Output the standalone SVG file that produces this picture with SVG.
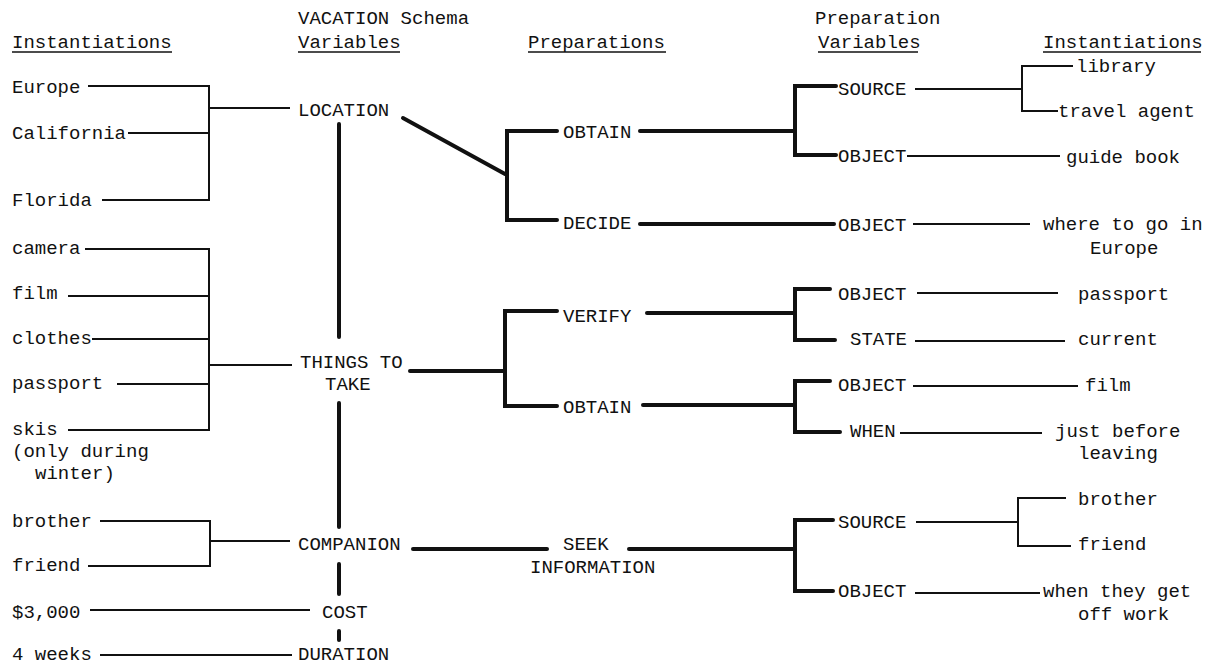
<svg xmlns="http://www.w3.org/2000/svg" width="1207" height="666" viewBox="0 0 1207 666">
<style>
text{font-family:"Liberation Mono","Courier New",monospace;font-size:19px;fill:#111}
.thin{stroke:#111;stroke-width:2;fill:none}
.thick{stroke:#111;stroke-width:4;fill:none;stroke-linecap:round;stroke-linejoin:miter}
.ul{stroke:#111;stroke-width:1.5}
</style>
<rect width="1207" height="666" fill="#fff"/>
<g id="headers">
<text x="12" y="48">Instantiations</text><line class="ul" x1="12" y1="52" x2="172" y2="52"/>
<text x="298" y="24">VACATION Schema</text>
<text x="298" y="48">Variables</text><line class="ul" x1="298" y1="52" x2="400" y2="52"/>
<text x="528" y="48">Preparations</text><line class="ul" x1="528" y1="52" x2="666" y2="52"/>
<text x="815" y="24">Preparation</text>
<text x="818" y="48">Variables</text><line class="ul" x1="818" y1="52" x2="918" y2="52"/>
<text x="1043" y="48">Instantiations</text><line class="ul" x1="1043" y1="52" x2="1201" y2="52"/>
</g>
<g id="connectors">
<polyline class="thin" points="88,86 209,86 209,200 102,200"/>
<line class="thin" x1="128" y1="133" x2="209" y2="133"/>
<line class="thin" x1="209" y1="108" x2="290" y2="108"/>
<polyline class="thin" points="85,249 209,249 209,430 68,430"/>
<line class="thin" x1="68" y1="296" x2="209" y2="296"/>
<line class="thin" x1="92" y1="339" x2="209" y2="339"/>
<line class="thin" x1="117" y1="384" x2="209" y2="384"/>
<line class="thin" x1="209" y1="365" x2="292" y2="365"/>
<polyline class="thin" points="100,521 210,521 210,566 88,566"/>
<line class="thin" x1="210" y1="541" x2="290" y2="541"/>
<line class="thin" x1="90" y1="610" x2="310" y2="610"/>
<line class="thin" x1="100" y1="655" x2="292" y2="655"/>
<line class="thick" x1="339" y1="124" x2="339" y2="337"/>
<line class="thick" x1="339" y1="403" x2="339" y2="527"/>
<line class="thick" x1="339" y1="564" x2="339" y2="594"/>
<line class="thick" x1="339" y1="631" x2="339" y2="640"/>
<line class="thick" x1="403" y1="118" x2="505" y2="174"/>
<polyline class="thick" points="557,131 507,131 507,220 557,220"/>
<line class="thick" x1="640" y1="131" x2="795" y2="131"/>
<polyline class="thick" points="836,86 795,86 795,155 836,155"/>
<line class="thin" x1="915" y1="89" x2="1022" y2="89"/>
<polyline class="thin" points="1073,66 1022,66 1022,111 1058,111"/>
<line class="thin" x1="907" y1="156" x2="1060" y2="156"/>
<line class="thick" x1="640" y1="224" x2="834" y2="224"/>
<line class="thin" x1="913" y1="224" x2="1030" y2="224"/>
<line class="thick" x1="410" y1="371" x2="505" y2="371"/>
<polyline class="thick" points="557,311 505,311 505,406 557,406"/>
<line class="thick" x1="647" y1="313" x2="795" y2="313"/>
<polyline class="thick" points="830,289 795,289 795,340 835,340"/>
<line class="thin" x1="917" y1="293" x2="1058" y2="293"/>
<line class="thin" x1="915" y1="341" x2="1065" y2="341"/>
<line class="thick" x1="643" y1="405" x2="795" y2="405"/>
<polyline class="thick" points="830,381 795,381 795,432 840,432"/>
<line class="thin" x1="913" y1="386" x2="1078" y2="386"/>
<line class="thin" x1="900" y1="433" x2="1042" y2="433"/>
<line class="thick" x1="413" y1="549" x2="547" y2="549"/>
<line class="thick" x1="629" y1="549" x2="795" y2="549"/>
<polyline class="thick" points="833,520 795,520 795,591 833,591"/>
<line class="thin" x1="916" y1="522" x2="1018" y2="522"/>
<polyline class="thin" points="1066,498 1018,498 1018,546 1071,546"/>
<line class="thin" x1="915" y1="593" x2="1040" y2="593"/>
</g>
<g id="inst-left">
<text x="12" y="93">Europe</text>
<text x="12" y="139">California</text>
<text x="12" y="206">Florida</text>
<text x="12" y="254">camera</text>
<text x="12" y="299">film</text>
<text x="12" y="344">clothes</text>
<text x="12" y="389">passport</text>
<text x="12" y="435">skis</text>
<text x="12" y="457">(only during</text>
<text x="35" y="479">winter)</text>
<text x="12" y="527">brother</text>
<text x="12" y="571">friend</text>
<text x="12" y="618">$3,000</text>
<text x="12" y="660">4 weeks</text>
</g>
<g id="var-location"><text x="298" y="116">LOCATION</text></g>
<g id="var-things"><text x="300" y="368">THINGS TO</text><text x="325" y="390">TAKE</text></g>
<g id="var-companion"><text x="298" y="550">COMPANION</text></g>
<g id="var-cost"><text x="322" y="618">COST</text></g>
<g id="var-duration"><text x="298" y="660">DURATION</text></g>
<g id="prep-obtain1"><text x="563" y="138">OBTAIN</text></g>
<g id="prep-decide"><text x="563" y="229">DECIDE</text></g>
<g id="prep-verify"><text x="563" y="322">VERIFY</text></g>
<g id="prep-obtain2"><text x="563" y="413">OBTAIN</text></g>
<g id="prep-seek"><text x="563" y="550">SEEK</text><text x="530" y="573">INFORMATION</text></g>
<g id="pvar-1"><text x="838" y="95">SOURCE</text><text x="838" y="162">OBJECT</text><text x="838" y="231">OBJECT</text></g>
<g id="pvar-2"><text x="838" y="300">OBJECT</text><text x="850" y="345">STATE</text><text x="838" y="391">OBJECT</text><text x="850" y="437">WHEN</text></g>
<g id="pvar-3"><text x="838" y="528">SOURCE</text><text x="838" y="597">OBJECT</text></g>
<g id="inst-right">
<text x="1076" y="72">library</text>
<text x="1058" y="117">travel agent</text>
<text x="1066" y="163">guide book</text>
<text x="1043" y="230">where to go in</text>
<text x="1090" y="254">Europe</text>
<text x="1078" y="300">passport</text>
<text x="1078" y="345">current</text>
<text x="1085" y="391">film</text>
<text x="1055" y="437">just before</text>
<text x="1078" y="459">leaving</text>
<text x="1078" y="505">brother</text>
<text x="1078" y="550">friend</text>
<text x="1043" y="597">when they get</text>
<text x="1078" y="620">off work</text>
</g>
</svg>
